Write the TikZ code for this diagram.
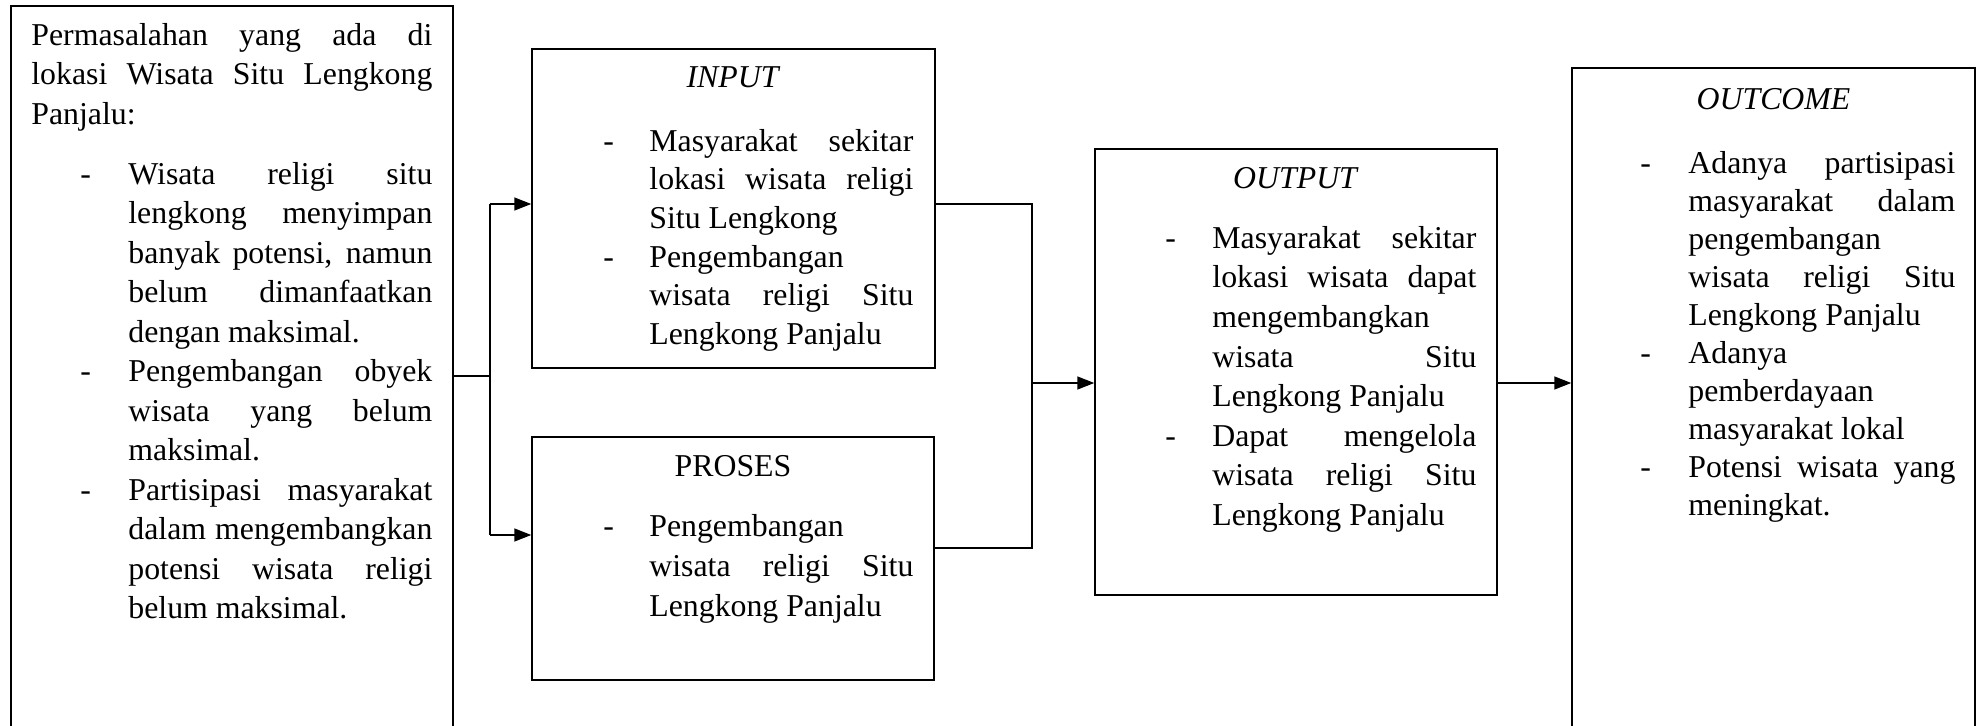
\documentclass[tikz,border=0pt]{standalone}
\usepackage{fontspec}
\setmainfont{Liberation Serif}
\usetikzlibrary{arrows.meta}
\newcommand\fs{\rule{0pt}{12pt}}
\newcommand\bul[1]{\noindent\llap{\makebox[#1][l]{-}}}
\begin{document}
\begin{tikzpicture}[x=0.5pt,y=-0.5pt,
 frame/.style={draw=black, line width=0.75pt, inner sep=0pt, rectangle},
 txt/.style={inner sep=0pt, anchor=north west, align=justify, text width=#1,
   execute at begin node={\tolerance=10000\hyphenpenalty=10000\relax}},
 lsk/.style={font=\fontsize{15.9pt}{#1}\selectfont},
 ttl/.style={inner sep=0pt, anchor=base, font=\fontsize{15.9pt}{19pt}\selectfont},
 conn/.style={line width=0.75pt},
 arr/.style={conn, -{Triangle[length=8.5pt,width=6.5pt]}}]
\useasboundingbox (0,0) rectangle (1979,726);
\clip (0,0) rectangle (1979,726);
% frames
\node[frame, minimum width=221pt, minimum height=377pt] (left) at (232,383) {};
\node[frame, minimum width=201.5pt, minimum height=159.5pt] (input) at (733.5,208.5) {};
\node[frame, minimum width=201pt, minimum height=121.5pt] (proses) at (733,558.5) {};
\node[frame, minimum width=201pt, minimum height=223pt] (output) at (1296,372) {};
\node[frame, minimum width=201.5pt, minimum height=356pt] (outcome) at (1773.5,424) {};
% texts
\node[txt=200.5pt, lsk=19.75pt] (lefttxt) at (31,21) {\fs Permasalahan yang ada di\break lokasi Wisata Situ Lengkong\break Panjalu:\par\vspace{10.25pt}\leftskip=48.5pt\relax
\bul{24pt}Wisata religi situ\break lengkong menyimpan\break banyak potensi, namun\break belum dimanfaatkan\break dengan maksimal.\par\bul{24pt}Pengembangan obyek\break wisata yang belum\break maksimal.\par\bul{24pt}Partisipasi masyarakat\break dalam mengembangkan\break potensi wisata religi\break belum maksimal.\par};
\node[ttl] (inputttl) at (733.5,88) {\textit{INPUT}};
\node[txt=132pt, lsk=19.3pt] (inputtxt) at (649,127) {\bul{23pt}\fs Masyarakat sekitar\break lokasi wisata religi\break Situ Lengkong\par\bul{23pt}Pengembangan\hfill\break wisata religi Situ\break Lengkong Panjalu\par};
\node[ttl] (prosesttl) at (733,477) {PROSES};
\node[txt=132pt, lsk=20pt] (prosestxt) at (649,512) {\bul{23pt}\fs Pengembangan\hfill\break wisata religi Situ\break Lengkong Panjalu\par};
\node[ttl] (outputttl) at (1296,189) {\textit{OUTPUT}};
\node[txt=132pt, lsk=19.8pt] (outputtxt) at (1212,224) {\bul{23.5pt}\fs Masyarakat sekitar\break lokasi wisata dapat\break mengembangkan\hfill\break wisata Situ\break Lengkong Panjalu\par\bul{23.5pt}Dapat mengelola\break wisata religi Situ\break Lengkong Panjalu\par};
\node[ttl] (outcomettl) at (1773.5,110) {\textit{OUTCOME}};
\node[txt=133.5pt, lsk=19pt] (outcometxt) at (1688,149) {\bul{24pt}\fs Adanya partisipasi\break masyarakat dalam\break pengembangan\hfill\break wisata religi Situ\break Lengkong Panjalu\par\bul{24pt}Adanya\hfill\break pemberdayaan\hfill\break masyarakat lokal\par\bul{24pt}Potensi wisata yang\break meningkat.\par};
% connectors
\coordinate (jl) at (490,376);
\coordinate (jlt) at (490,204);
\coordinate (jlb) at (490,535);
\draw[conn] (left.east |- jl) -- (jl);
\draw[conn] (jlt) -- (jlb);
\draw[arr] (jlt) -- (jlt -| input.west);
\draw[arr] (jlb) -- (jlb -| proses.west);
\coordinate (jrt) at (1032,204);
\coordinate (jrb) at (1032,548);
\coordinate (jrm) at (1032,383);
\draw[conn] (input.east |- jrt) -- (jrt) -- (jrb) -- (proses.east |- jrb);
\draw[arr] (jrm) -- (jrm -| output.west);
\draw[arr] (output.east |- jrm) -- (jrm -| outcome.west);
\end{tikzpicture}
\end{document}
